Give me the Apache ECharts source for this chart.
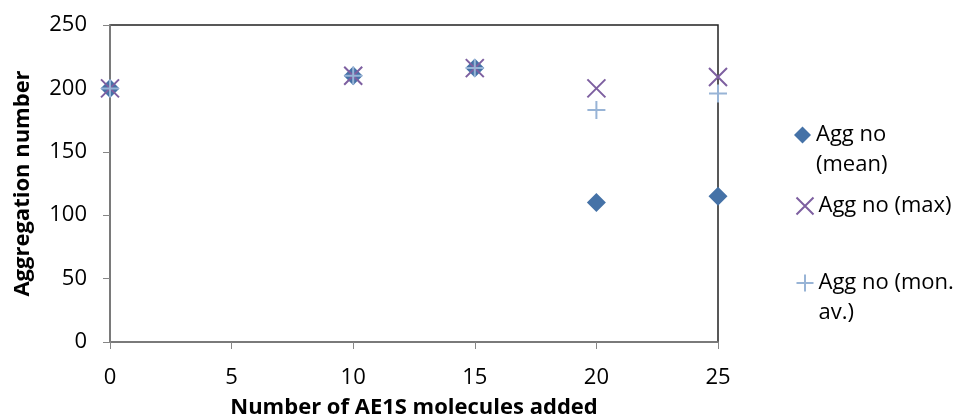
<!DOCTYPE html>
<html lang="en">
<head>
    <meta charset="UTF-8">
    <title>aggregation</title>
    <script src="https://cdn.jsdelivr.net/npm/echarts@6/dist/echarts.min.js"></script>
    <style>
        html, body { margin: 0; padding: 0; background: #fff; }
    </style>
</head>
<body>
<div id="main" style="width: 962px;height:419px;"></div>

<script>
    // data
    const added = [0, 10, 15, 20, 25];
    const aggMean = [200, 210, 216, 110, 115];
    const aggMax = [200, 210, 216, 200, 209];
    const aggMonAv = [200, 210, 216, 183, 196];
    const xTicks = [0, 5, 10, 15, 20, 25];
    const yTicks = [0, 50, 100, 150, 200, 250];

    const names = ['Agg no (mean)', 'Agg no (max)', 'Agg no (mon. av.)'];
    const pairs = function (ys) {
        return added.map(function (x, i) { return [x, ys[i]]; });
    };

    const font = '"Open Sans", sans-serif';
    const crossPath = 'path://M0,0L10,10M10,0L0,10';
    const plusPath = 'path://M5,0L5,10M0,5L10,5';
    const legendText = {fontSize: 22, lineHeight: 30, color: '#000', fontFamily: font};

    const myChart = echarts.init(document.getElementById('main'));
    myChart.setOption({
        animation: false,
        textStyle: {fontFamily: font},
        grid: {
            left: 110, right: 244, top: 25, bottom: 77,
            outerBoundsMode: 'none',
            show: true, borderColor: '#222', borderWidth: 1.5
        },
        xAxis: {
            type: 'value',
            min: xTicks[0], max: xTicks[xTicks.length - 1], interval: 5,
            name: 'Number of AE1S molecules added',
            nameLocation: 'middle', nameGap: 55,
            nameTextStyle: {fontSize: 22, fontWeight: 'bold', color: '#000', fontFamily: font},
            axisLine: {lineStyle: {color: '#868686', width: 1.5}},
            axisTick: {show: true, length: 7, lineStyle: {color: '#868686'}},
            axisLabel: {fontSize: 22, color: '#000', margin: 25, fontFamily: font},
            splitLine: {show: false}
        },
        yAxis: {
            type: 'value',
            min: yTicks[0], max: yTicks[yTicks.length - 1], interval: 50,
            name: 'Aggregation number',
            nameLocation: 'middle', nameGap: 76,
            nameTextStyle: {fontSize: 22, fontWeight: 'bold', color: '#000', fontFamily: font},
            axisLine: {show: true, lineStyle: {color: '#868686', width: 1.5}},
            axisTick: {show: true, length: 7, lineStyle: {color: '#868686'}},
            axisLabel: {fontSize: 22, color: '#000', margin: 23, fontFamily: font},
            splitLine: {show: false}
        },
        legend: [
            {
                data: [names[0]],
                left: 789, top: 85, itemWidth: 17, itemHeight: 17,
                formatter: function () { return ' \nAgg no\n(mean)'; },
                textStyle: legendText
            },
            {
                data: [names[1]],
                left: 789, top: 186, itemWidth: 17, itemHeight: 17,
                textStyle: legendText
            },
            {
                data: [names[2]],
                left: 789, top: 233, itemWidth: 17, itemHeight: 17,
                formatter: function () { return ' \nAgg no (mon.\nav.)'; },
                textStyle: legendText
            }
        ],
        series: [
            {
                name: names[0], type: 'scatter',
                symbol: 'diamond', symbolSize: 19,
                itemStyle: {color: '#4572A7', opacity: 1},
                data: pairs(aggMean)
            },
            {
                name: names[1], type: 'scatter',
                symbol: crossPath, symbolSize: 18,
                itemStyle: {color: 'none', borderColor: '#7D5FA0', borderWidth: 2, opacity: 1},
                data: pairs(aggMax)
            },
            {
                name: names[2], type: 'scatter',
                symbol: plusPath, symbolSize: 18,
                itemStyle: {color: 'none', borderColor: '#98B4D6', borderWidth: 2, opacity: 1},
                data: pairs(aggMonAv)
            }
        ]
    });
</script>
</body>
</html>
